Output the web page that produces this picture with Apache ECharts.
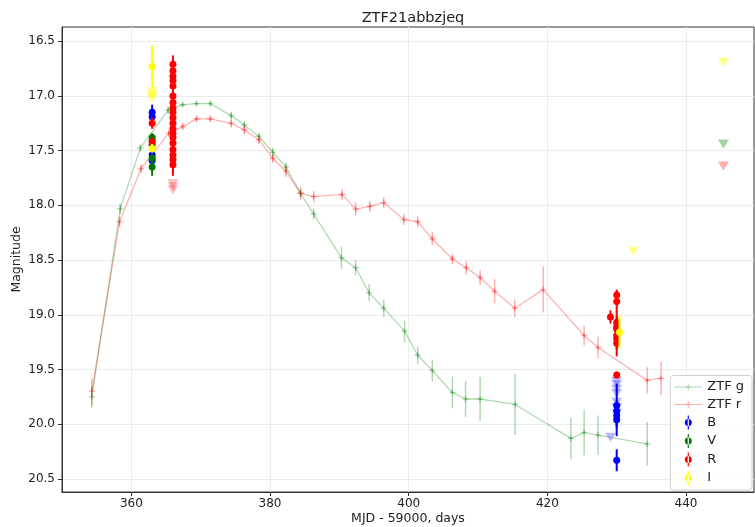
<!DOCTYPE html>
<html>
<head>
<meta charset="utf-8">
<script src="https://cdn.jsdelivr.net/npm/echarts@6/dist/echarts.min.js"></script>
<style>
  html, body { margin: 0; padding: 0; background: #fff; }
  #chart { width: 755px; height: 527px; }
</style>
</head>
<body>
<div id="chart"></div>
<script>
// ZTF g band light curve
const gDays = [354.3, 358.4, 361.3, 365.3, 367.4, 369.4, 371.4, 374.4, 376.3, 378.4, 380.4, 382.3, 384.4, 386.3, 390.3, 392.35, 394.3, 396.4, 399.4, 401.3, 403.4, 406.3, 408.2, 410.3, 415.35, 423.4, 425.3, 427.3, 434.4];
const gMag = [19.75, 18.03, 17.475, 17.13, 17.08, 17.07, 17.07, 17.18, 17.265, 17.37, 17.515, 17.65, 17.89, 18.08, 18.48, 18.57, 18.80, 18.94, 19.15, 19.37, 19.51, 19.71, 19.77, 19.77, 19.82, 20.13, 20.075, 20.10, 20.18];
const gErr = [0.1, 0.05, 0.03, 0.03, 0.02, 0.02, 0.02, 0.03, 0.03, 0.03, 0.04, 0.04, 0.04, 0.05, 0.1, 0.07, 0.08, 0.08, 0.1, 0.08, 0.1, 0.145, 0.165, 0.2, 0.28, 0.19, 0.21, 0.18, 0.2];

// ZTF r band light curve
const rDays = [354.3, 358.3, 361.4, 365.4, 367.4, 369.4, 371.4, 374.4, 376.3, 378.4, 380.4, 382.3, 384.4, 386.3, 390.4, 392.35, 394.4, 396.4, 399.3, 401.3, 403.4, 406.3, 408.3, 410.3, 412.4, 415.3, 419.4, 425.3, 427.3, 434.4, 436.4];
const rMag = [19.70, 18.15, 17.665, 17.34, 17.28, 17.21, 17.21, 17.25, 17.31, 17.40, 17.57, 17.69, 17.89, 17.92, 17.90, 18.035, 18.01, 17.975, 18.13, 18.15, 18.305, 18.49, 18.57, 18.66, 18.785, 18.94, 18.77, 19.19, 19.30, 19.60, 19.58];
const rErr = [0.12, 0.05, 0.04, 0.03, 0.03, 0.03, 0.03, 0.04, 0.04, 0.04, 0.04, 0.05, 0.06, 0.05, 0.05, 0.06, 0.05, 0.05, 0.05, 0.05, 0.06, 0.05, 0.06, 0.07, 0.11, 0.08, 0.21, 0.09, 0.1, 0.12, 0.155];

// other photometry: [day, mag, err]
const bPoints = [[363.0, 17.15, 0.07], [363.0, 17.19, 0.05], [363.0, 17.54, 0.04], [363.0, 17.59, 0.04],
  [430.0, 19.83, 0.2], [430.0, 19.88, 0.1], [430.0, 19.92, 0.1], [430.0, 19.96, 0.15], [430.0, 20.33, 0.1]];
const vPoints = [[363.0, 17.38, 0.04], [363.0, 17.41, 0.04], [363.0, 17.45, 0.04], [363.0, 17.57, 0.04], [363.0, 17.65, 0.08]];
const rPoints = [[363.0, 17.25, 0.05], [363.0, 17.42, 0.04],
  [366.0, 16.71, 0.08], [366.0, 16.77, 0.05], [366.0, 16.82, 0.05], [366.0, 16.86, 0.05], [366.0, 16.91, 0.05],
  [366.0, 17.00, 0.05], [366.0, 17.06, 0.05], [366.0, 17.11, 0.05], [366.0, 17.15, 0.05], [366.0, 17.20, 0.05],
  [366.0, 17.25, 0.05], [366.0, 17.30, 0.05], [366.0, 17.34, 0.05], [366.0, 17.38, 0.05], [366.0, 17.43, 0.05],
  [366.0, 17.49, 0.05], [366.0, 17.54, 0.05], [366.0, 17.58, 0.05], [366.0, 17.63, 0.1],
  [429.1, 19.02, 0.06],
  [430.0, 18.82, 0.05], [430.0, 18.88, 0.1], [430.0, 19.07, 0.1], [430.0, 19.11, 0.1], [430.0, 19.13, 0.1],
  [430.0, 19.19, 0.1], [430.0, 19.22, 0.1], [430.0, 19.26, 0.12], [430.0, 19.55, 0.03]];
const iPoints = [[363.0, 16.73, 0.19], [363.0, 17.48, 0.04], [430.4, 19.16, 0.15]];

// upper limits: [day, mag]
const bLimits = [[430.0, 19.61], [430.0, 19.64], [430.0, 19.68], [430.0, 19.72], [430.0, 19.80], [430.0, 19.85], [430.0, 19.90], [429.1, 20.12]];
const rLimits = [[366.0, 17.80], [366.0, 17.83], [366.0, 17.86]];
const iLimits = [[363.0, 16.96], [363.0, 16.99], [363.0, 17.02], [432.4, 18.42], [445.4, 16.69]];
const gZtfLimits = [[445.4, 17.44]];
const rZtfLimits = [[445.4, 17.64]];

const yTicks = [16.5, 17.0, 17.5, 18.0, 18.5, 19.0, 19.5, 20.0, 20.5];
const xTicks = [360, 380, 400, 420, 440];

const FONT = 'DejaVu Sans';

function zip3(a, b, c) {
  return a.map((v, i) => [v, b[i], c[i]]);
}

function errRender(color, marker, width) {
  return function (params, api) {
    const x = api.value(0), y = api.value(1), e = api.value(2);
    const p = api.coord([x, y]);
    const t = api.coord([x, y - e]);
    const b = api.coord([x, y + e]);
    const kids = [{
      type: 'line',
      shape: { x1: p[0], y1: t[1], x2: p[0], y2: b[1] },
      style: { stroke: color, lineWidth: width }
    }];
    if (marker === 'circle') {
      kids.push({ type: 'circle', shape: { cx: p[0], cy: p[1], r: 3.5 }, style: { fill: color } });
    } else {
      kids.push({ type: 'line', shape: { x1: p[0] - 3, y1: p[1], x2: p[0] + 3, y2: p[1] }, style: { stroke: color, lineWidth: 1.5 } });
      kids.push({ type: 'line', shape: { x1: p[0], y1: p[1] - 3, x2: p[0], y2: p[1] + 3 }, style: { stroke: color, lineWidth: 1.5 } });
    }
    return { type: 'group', children: kids };
  };
}

const lineIcon = 'path://M0,3.5h28v1h-28z M13.5,0.5h1v7h-1z M12,3h4v2h-4z';
const dotIcon = 'path://M2.5,0h1v12h-1z M3,3a3,3 0 1,0 0.01,0z';

const G_COL = 'rgba(0,128,0,0.3)';
const R_COL = 'rgba(255,0,0,0.3)';

function ztf(name, days, mags, errs, color) {
  return [
    {
      name: name, type: 'line', data: days.map((d, i) => [d, mags[i]]),
      symbol: 'none', lineStyle: { color: color, width: 1.3 }, itemStyle: { color: color },
      silent: true, z: 2
    },
    {
      name: name, type: 'custom', data: zip3(days, mags, errs),
      renderItem: errRender(color, 'plus', 1.5), itemStyle: { color: color }, z: 2
    }
  ];
}

function band(name, pts, color) {
  return {
    name: name, type: 'custom', data: pts,
    renderItem: errRender(color, 'circle', 2), itemStyle: { color: color }, z: 4
  };
}

function limits(pts, color, z) {
  return {
    type: 'scatter', data: pts, symbol: 'triangle', symbolRotate: 180, symbolSize: [11, 9],
    itemStyle: { color: color }, silent: true, z: z
  };
}

const chart = echarts.init(document.getElementById('chart'), null, { renderer: 'canvas' });

chart.setOption({
  animation: false,
  backgroundColor: '#fff',
  textStyle: { fontFamily: FONT },
  title: {
    text: 'ZTF21abbzjeq', left: 408, top: 6, textAlign: 'center',
    textStyle: { fontFamily: FONT, fontSize: 14.5, fontWeight: 'normal', color: '#222' }
  },
  grid: { left: 62, right: 1, top: 27, bottom: 35, show: true, borderColor: '#333', borderWidth: 1,
    containLabel: false, outerBoundsMode: 'none' },
  legend: {
    orient: 'vertical', right: 3, bottom: 37, selectedMode: false,
    itemWidth: 28, itemHeight: 14, itemGap: 4.5,
    padding: [5, 8, 5, 4],
    backgroundColor: 'rgba(255,255,255,0.85)', borderColor: '#d0d0d0', borderWidth: 1, borderRadius: 3,
    textStyle: { fontFamily: FONT, fontSize: 13, color: '#222' },
    data: [
      { name: 'ZTF g', icon: lineIcon },
      { name: 'ZTF r', icon: lineIcon },
      { name: 'B', icon: dotIcon },
      { name: 'V', icon: dotIcon },
      { name: 'R', icon: dotIcon },
      { name: 'I', icon: dotIcon }
    ]
  },
  xAxis: {
    type: 'value', min: 350, max: 449.8,
    name: 'MJD - 59000, days', nameLocation: 'middle', nameGap: 20, nameMoveOverlap: false,
    nameTextStyle: { fontFamily: FONT, fontSize: 12.5, color: '#222' },
    axisLine: { show: true, lineStyle: { color: '#333' } },
    axisTick: { show: true, length: 4, lineStyle: { color: '#333' }, customValues: xTicks },
    axisLabel: { fontFamily: FONT, fontSize: 12, color: '#222', margin: 6, customValues: xTicks },
    splitLine: { show: true, lineStyle: { color: '#ebebeb', width: 1 } }
  },
  yAxis: {
    type: 'value', inverse: true, min: 16.37, max: 20.62,
    name: 'Magnitude', nameLocation: 'middle', nameGap: 39, nameRotate: 90, nameMoveOverlap: false,
    nameTextStyle: { fontFamily: FONT, fontSize: 12.5, color: '#222' },
    axisLine: { show: true, lineStyle: { color: '#333' } },
    axisTick: { show: true, length: 4, lineStyle: { color: '#333' }, customValues: yTicks },
    axisLabel: { fontFamily: FONT, fontSize: 12, color: '#222', margin: 7, customValues: yTicks,
      formatter: v => v.toFixed(1) },
    splitLine: { show: true, lineStyle: { color: '#ebebeb', width: 1 } }
  },
  series: [
    ...ztf('ZTF g', gDays, gMag, gErr, G_COL),
    ...ztf('ZTF r', rDays, rMag, rErr, R_COL),
    limits(gZtfLimits, 'rgba(0,128,0,0.45)', 3),
    limits(rZtfLimits, 'rgba(255,0,0,0.4)', 3),
    limits(bLimits, 'rgba(60,60,255,0.45)', 3),
    limits(rLimits, 'rgba(255,60,60,0.4)', 3),
    limits(iLimits, 'rgba(255,255,0,0.6)', 3),
    band('B', bPoints, '#0000ff'),
    band('V', vPoints, '#007a00'),
    band('R', rPoints, '#ff0000'),
    band('I', iPoints, '#ffff00')
  ]
});
</script>
</body>
</html>
